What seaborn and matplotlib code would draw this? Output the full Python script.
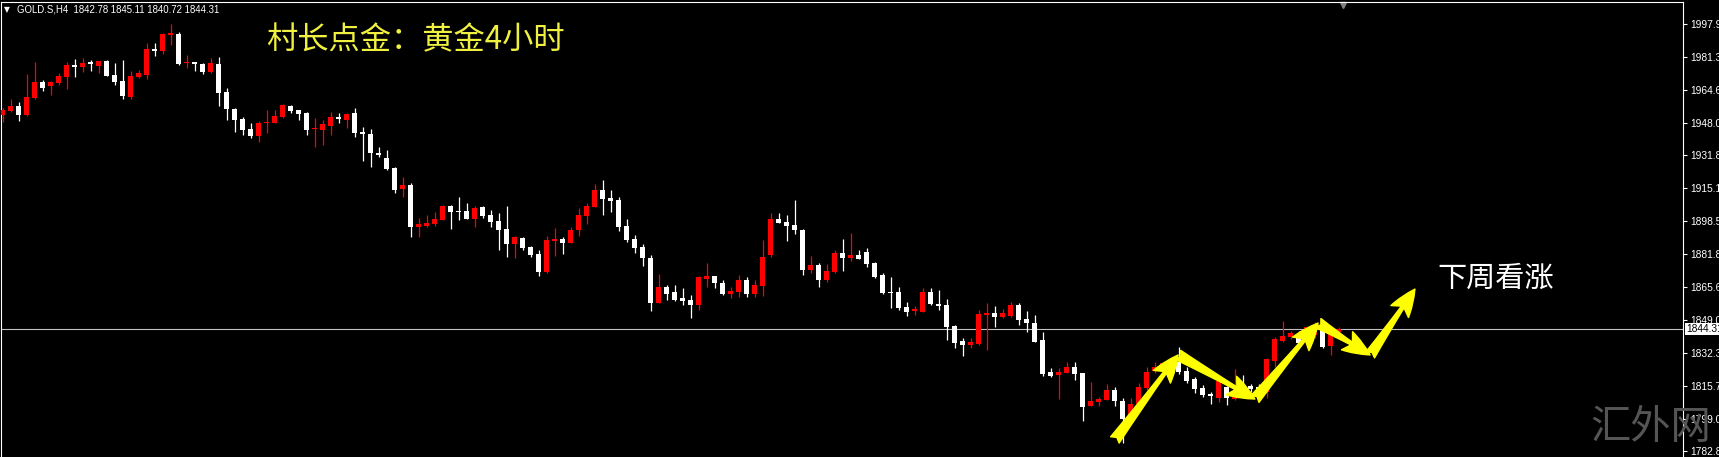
import matplotlib
matplotlib.use('Agg')
import matplotlib.pyplot as plt
import seaborn as sns
import numpy as np

# GOLD.S H4 candles, oldest first
opens = [1952.1, 1954.1, 1956.6, 1952.1, 1960.7, 1968.7, 1966.7, 1968.2, 1971.3, 1977.3,
         1976.3, 1978.8, 1976.8, 1979.3, 1972.3, 1969.2, 1961.2, 1971.3, 1972.3, 1985.4,
         1984.4, 1992.4, 1992.9, 1978.3, 1978.8, 1977.8, 1973.8, 1977.8, 1963.7, 1955.1,
         1950.1, 1945.1, 1941.5, 1948.1, 1948.1, 1951.1, 1956.6, 1954.6, 1953.1, 1945.1,
         1944.6, 1946.6, 1951.1, 1949.6, 1953.1, 1943.6, 1942.5, 1933.0, 1930.5, 1925.4,
         1914.8, 1916.8, 1895.7, 1896.2, 1897.2, 1899.2, 1906.3, 1903.7, 1903.7, 1899.7,
         1905.8, 1901.7, 1898.7, 1894.7, 1887.1, 1890.1, 1885.6, 1882.1, 1873.0, 1888.6,
         1889.6, 1887.6, 1894.1, 1901.2, 1905.8, 1914.3, 1910.3, 1909.3, 1896.2, 1889.6,
         1885.6, 1880.1, 1857.4, 1865.4, 1862.9, 1859.9, 1858.9, 1856.4, 1869.5, 1871.0,
         1867.5, 1861.9, 1862.9, 1869.0, 1861.9, 1865.9, 1881.6, 1899.7, 1898.2, 1896.7,
         1894.1, 1874.0, 1876.5, 1869.0, 1873.0, 1882.6, 1880.1, 1881.6, 1883.1, 1877.6,
         1871.5, 1862.9, 1862.9, 1855.4, 1853.4, 1852.9, 1862.9, 1856.9, 1856.4, 1845.8,
         1838.3, 1836.2, 1836.7, 1851.3, 1852.4, 1850.3, 1850.8, 1856.4, 1849.3, 1847.3,
         1838.8, 1822.6, 1821.1, 1822.1, 1825.1, 1822.1, 1805.5, 1807.5, 1808.5, 1813.6,
         1808.0, 1798.4, 1806.5, 1814.6, 1823.1, 1825.1, 1824.6, 1827.7, 1823.1, 1819.1,
         1814.6, 1811.6, 1809.5, 1815.1, 1809.0, 1816.6, 1815.6, 1815.1, 1812.6, 1828.2,
         1838.3, 1840.3, 1840.8, 1838.8, 1841.3, 1845.3, 1835.7, 1842.78]
highs = [1955.6, 1960.2, 1958.7, 1972.8, 1978.8, 1969.7, 1969.2, 1973.3, 1978.8, 1980.3,
         1980.8, 1979.8, 1979.3, 1979.8, 1978.3, 1979.8, 1974.3, 1974.8, 1988.4, 1988.4,
         1993.4, 1998.0, 1993.9, 1982.3, 1979.0, 1978.3, 1980.8, 1981.3, 1965.7, 1955.6,
         1951.1, 1948.1, 1949.1, 1954.6, 1954.6, 1957.7, 1957.2, 1954.8, 1953.6, 1950.6,
         1949.6, 1953.6, 1953.1, 1953.1, 1955.6, 1946.1, 1945.1, 1936.0, 1934.5, 1925.9,
         1920.9, 1917.8, 1900.2, 1901.7, 1903.2, 1906.8, 1906.8, 1910.8, 1907.8, 1906.3,
         1906.3, 1904.2, 1902.7, 1906.3, 1891.2, 1890.7, 1886.1, 1884.1, 1891.2, 1895.2,
         1890.7, 1895.7, 1905.3, 1907.8, 1917.4, 1919.4, 1914.3, 1910.8, 1899.7, 1891.7,
         1887.1, 1881.6, 1872.0, 1866.4, 1866.4, 1864.9, 1861.4, 1871.0, 1877.6, 1871.2,
         1869.0, 1865.4, 1871.5, 1870.5, 1869.0, 1889.1, 1902.7, 1902.7, 1901.7, 1909.3,
         1894.7, 1881.1, 1877.6, 1877.1, 1884.1, 1889.6, 1892.7, 1884.1, 1885.1, 1878.1,
         1872.5, 1870.5, 1865.4, 1857.9, 1855.9, 1864.9, 1864.9, 1863.9, 1859.4, 1846.3,
         1839.8, 1839.8, 1853.9, 1857.4, 1855.9, 1854.4, 1857.9, 1857.4, 1853.4, 1851.3,
         1842.8, 1824.6, 1824.6, 1827.7, 1827.7, 1822.3, 1817.6, 1810.0, 1816.6, 1815.1,
         1809.5, 1809.5, 1817.1, 1825.1, 1827.7, 1827.7, 1829.7, 1835.2, 1825.1, 1820.1,
         1816.1, 1812.6, 1819.1, 1815.6, 1824.1, 1821.1, 1816.6, 1816.6, 1829.7, 1840.3,
         1848.3, 1843.3, 1843.3, 1845.8, 1847.8, 1846.3, 1845.3, 1845.11]
lows = [1948.6, 1953.8, 1949.1, 1951.6, 1960.2, 1964.2, 1962.2, 1967.2, 1965.2, 1971.3,
        1973.8, 1974.3, 1973.3, 1971.6, 1967.2, 1960.2, 1960.2, 1970.8, 1970.2, 1981.8,
        1982.8, 1987.4, 1977.3, 1975.8, 1974.3, 1972.8, 1973.3, 1956.6, 1949.6, 1943.6,
        1942.0, 1940.5, 1938.5, 1943.0, 1947.8, 1950.6, 1953.1, 1949.6, 1942.0, 1936.0,
        1937.0, 1942.0, 1948.1, 1945.6, 1941.0, 1928.9, 1925.9, 1931.0, 1924.4, 1912.8,
        1910.8, 1890.7, 1890.7, 1895.7, 1896.2, 1899.0, 1894.7, 1899.2, 1899.5, 1895.7,
        1900.2, 1895.7, 1884.1, 1880.6, 1880.1, 1884.1, 1880.6, 1871.0, 1872.5, 1881.1,
        1882.1, 1887.4, 1891.2, 1897.2, 1905.6, 1901.7, 1903.2, 1893.6, 1888.1, 1882.6,
        1876.0, 1853.4, 1857.2, 1858.9, 1858.4, 1856.4, 1849.8, 1853.9, 1865.4, 1864.9,
        1861.4, 1859.9, 1860.4, 1860.4, 1860.4, 1860.9, 1880.6, 1897.5, 1888.6, 1892.2,
        1871.5, 1872.5, 1865.4, 1868.0, 1872.5, 1873.5, 1878.6, 1879.4, 1875.5, 1870.0,
        1861.9, 1854.9, 1853.9, 1850.8, 1851.3, 1852.7, 1856.4, 1853.9, 1838.8, 1834.7,
        1830.7, 1834.7, 1836.2, 1833.7, 1845.3, 1849.8, 1850.3, 1846.3, 1842.8, 1837.6,
        1820.6, 1820.1, 1809.0, 1821.9, 1818.6, 1797.9, 1805.3, 1805.5, 1808.3, 1805.5,
        1786.9, 1798.2, 1806.0, 1813.6, 1822.1, 1824.6, 1822.6, 1821.6, 1817.1, 1812.1,
        1810.0, 1806.5, 1807.5, 1806.0, 1808.5, 1810.0, 1812.6, 1812.1, 1809.5, 1825.1,
        1837.8, 1839.3, 1836.7, 1835.2, 1839.8, 1834.7, 1831.2, 1840.72]
closes = [1954.6, 1956.6, 1952.1, 1961.2, 1968.7, 1965.7, 1968.7, 1971.8, 1977.3, 1976.3,
          1978.3, 1977.8, 1979.3, 1971.8, 1968.7, 1961.7, 1971.8, 1973.3, 1985.4, 1984.4,
          1992.9, 1993.4, 1977.8, 1978.8, 1977.8, 1973.8, 1978.3, 1963.2, 1955.1, 1949.6,
          1944.6, 1941.5, 1948.1, 1948.6, 1951.6, 1957.2, 1954.1, 1952.6, 1944.6, 1945.6,
          1947.6, 1951.1, 1950.1, 1952.6, 1943.0, 1942.5, 1933.0, 1932.0, 1924.9, 1914.3,
          1916.8, 1895.7, 1897.2, 1897.7, 1899.7, 1906.3, 1903.2, 1903.2, 1899.7, 1905.3,
          1901.2, 1898.2, 1894.1, 1887.1, 1890.7, 1885.1, 1881.6, 1873.0, 1889.1, 1889.6,
          1887.6, 1894.1, 1901.7, 1906.3, 1914.3, 1909.8, 1908.8, 1895.7, 1889.1, 1885.1,
          1880.1, 1857.4, 1865.4, 1861.9, 1858.9, 1858.4, 1856.4, 1870.5, 1871.0, 1867.5,
          1861.9, 1863.4, 1869.0, 1861.9, 1866.4, 1880.6, 1899.7, 1897.7, 1896.2, 1894.1,
          1874.0, 1876.5, 1869.0, 1873.5, 1882.6, 1880.1, 1881.6, 1879.6, 1877.1, 1870.5,
          1862.4, 1862.4, 1854.9, 1852.9, 1854.4, 1862.9, 1856.9, 1855.9, 1845.3, 1837.3,
          1836.2, 1837.8, 1851.9, 1852.4, 1850.3, 1852.4, 1856.4, 1848.8, 1847.3, 1837.8,
          1821.6, 1820.6, 1822.6, 1825.1, 1821.6, 1805.0, 1808.0, 1809.0, 1813.6, 1808.0,
          1798.9, 1806.5, 1815.1, 1822.6, 1825.1, 1827.2, 1827.7, 1822.6, 1818.1, 1814.1,
          1811.1, 1810.6, 1818.1, 1809.5, 1812.6, 1815.1, 1814.1, 1812.6, 1829.2, 1839.3,
          1840.8, 1842.3, 1837.3, 1845.3, 1846.3, 1835.2, 1843.3, 1844.31]

tick_values = [1997.95, 1981.30, 1964.65, 1948.00, 1931.80, 1915.15, 1898.50,
               1881.85, 1865.65, 1849.00, 1832.35, 1815.70, 1799.05, 1782.85]
tick_labels = ['1997.95', '1981.30', '1964.65', '1948.00', '1931.80', '1915.15', '1898.50',
               '1881.85', '1865.65', '1849.00', '1832.35', '1815.70', '1799.05', '1782.85']
last_price = 1844.31
header = 'GOLD.S,H4  1842.78 1845.11 1840.72 1844.31'
title = '村长点金：黄金4小时'
forecast = '下周看涨'
watermark = '汇外网'

# hand-drawn yellow zigzag (bar index, price)
arrow_idx = [139.0, 146.9, 156.5, 164.4, 170.9, 176.5]
arrow_price = [1788.4, 1831.2, 1809.0, 1847.3, 1831.2, 1864.4]

sns.set_theme(style='dark', rc={'axes.facecolor': 'black', 'figure.facecolor': 'black',
                                'axes.grid': False})
plt.rcParams['font.family'] = ['Liberation Sans', 'Noto Sans CJK SC', 'DejaVu Sans']

fig = plt.figure(figsize=(17.19, 4.57), dpi=100)
ax = fig.add_axes([1 / 1719, 0, 1682 / 1719, 455 / 457])
ax.set_facecolor('black')

o = np.array(opens)
c = np.array(closes)
x = np.arange(len(o))
colors = np.where(c > o, '#ff0000', '#ffffff')

ax.vlines(x, lows, highs, colors=colors, linewidth=0.9, zorder=2)
body = np.maximum(np.abs(c - o), 0.5)
ax.bar(x, body, bottom=np.minimum(o, c), width=0.62, color=colors, linewidth=0, zorder=3)

ax.axhline(last_price, color='#c0c0c0', linewidth=0.8, zorder=1)

for k in range(len(arrow_idx) - 1):
    ax.annotate('', xy=(arrow_idx[k + 1], arrow_price[k + 1]),
                xytext=(arrow_idx[k], arrow_price[k]),
                arrowprops=dict(arrowstyle='fancy,head_length=1.15,head_width=0.9,tail_width=0.45',
                                color='#ffff00', mutation_scale=17, shrinkA=0, shrinkB=0),
                zorder=5)

ax.set_xlim(-0.21, 210.0)
ax.set_ylim(1779.8, 2009.0)
ax.set_xticks([])
ax.yaxis.tick_right()
ax.set_yticks(tick_values)
ax.set_yticklabels(tick_labels)
ax.tick_params(axis='y', colors='white', labelcolor='white', labelsize=7.4,
               length=3, width=0.8, pad=2, direction='out')

for side in ['top', 'left', 'right']:
    ax.spines[side].set_color('white')
    ax.spines[side].set_linewidth(0.8)
ax.spines['bottom'].set_visible(False)

ax.text(1.002, last_price, '1844.31', transform=ax.get_yaxis_transform(),
        va='center', ha='left', fontsize=7.4, color='black',
        bbox=dict(facecolor='white', edgecolor='none', pad=0.8), zorder=6)

# shift marker at the top
ax.plot([167.5], [0.993], transform=ax.get_xaxis_transform(), marker='v',
        color='#808080', markersize=5, clip_on=False)

fig.text(4 / 1719, 1 - 10 / 457, '▼', color='white', fontsize=5.5, va='center',
         family=['DejaVu Sans'])
fig.text(17 / 1719, 1 - 10 / 457, header, color='white', fontsize=6.9, va='center')

ax.text(0.1576, 0.9165, title, transform=ax.transAxes, color='#f0f040', fontsize=22.5,
        va='center', ha='left', family=['Noto Sans CJK SC', 'DejaVu Sans'])
ax.text(179.3, 1869.5, forecast, color='white', fontsize=21, va='center', ha='left',
        family=['Noto Sans CJK SC', 'DejaVu Sans'])
fig.text(1590 / 1719, 1 - 428 / 457, watermark, color='#555555', fontsize=29,
         va='center', ha='left', family=['Noto Sans CJK SC', 'DejaVu Sans'], zorder=10)

fig.savefig('out.png', dpi=100, facecolor='black')
